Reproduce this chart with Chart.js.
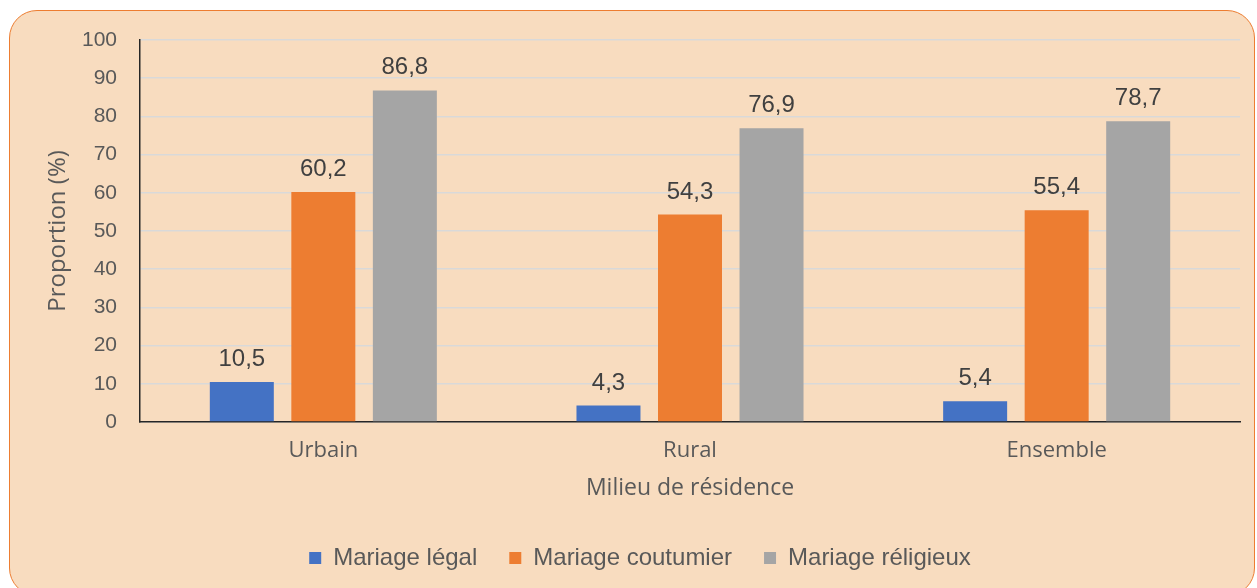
<!DOCTYPE html>
<html>
<head>
<meta charset="utf-8">
<script src="https://cdn.jsdelivr.net/npm/chart.js@4"></script>
<style>
  html, body { margin: 0; padding: 0; background: #ffffff; }
  #panel {
    position: absolute; left: 9px; top: 10px; width: 1246px; height: 586px;
    background: #F8DCBF; border: 1.5px solid #ED7D31; border-radius: 28px;
    box-sizing: border-box;
  }
  #wrap { position: absolute; left: 0; top: 0; width: 1257px; height: 588px; }
</style>
</head>
<body>
<div id="panel"></div>
<div id="wrap"><canvas id="marriageChart"></canvas></div>
<script>
const categories = ["Urbain", "Rural", "Ensemble"];
const seriesNames = ["Mariage légal", "Mariage coutumier", "Mariage réligieux"];
const legalValues = [10.5, 4.3, 5.4];
const customaryValues = [60.2, 54.3, 55.4];
const religiousValues = [86.8, 76.9, 78.7];
const seriesColors = ["#4472C4", "#ED7D31", "#A5A5A5"];

// étiquettes de valeur au-dessus des barres (format français)
const valueLabels = {
  id: "valueLabels",
  afterDatasetsDraw(chart) {
    const ctx = chart.ctx;
    ctx.save();
    ctx.font = "24px 'Liberation Sans', Arial, sans-serif";
    ctx.fillStyle = "#404040";
    ctx.textAlign = "center";
    ctx.textBaseline = "alphabetic";
    chart.data.datasets.forEach((ds, i) => {
      chart.getDatasetMeta(i).data.forEach((bar, j) => {
        ctx.fillText(ds.data[j].toFixed(1).replace(".", ","), bar.x, bar.y - 16);
      });
    });
    ctx.restore();
  }
};

const ctx = document.getElementById("marriageChart").getContext("2d");

new Chart(ctx, {
  type: "bar",
  data: {
    labels: categories,
    datasets: [legalValues, customaryValues, religiousValues].map((vals, i) => ({
      label: seriesNames[i],
      data: vals,
      backgroundColor: seriesColors[i],
      categoryPercentage: 0.667,
      barPercentage: 0.785,
    })),
  },
  options: {
    responsive: true,
    maintainAspectRatio: false,
    animation: false,
    layout: {
      padding: { top: 40, left: 40, right: 17, bottom: 8 },
    },
    plugins: {
      legend: {
        position: "bottom",
        labels: {
          boxWidth: 12,
          boxHeight: 12,
          padding: 32,
          color: "#595959",
          font: { family: "'Liberation Sans', Arial, sans-serif", size: 24 },
        },
      },
      tooltip: { enabled: false },
    },
    scales: {
      x: {
        grid: { display: false, drawTicks: false },
        border: { display: true, color: "#262626", width: 1.5 },
        ticks: {
          padding: 16,
          color: "#595959",
          font: { family: "'Open Sans', sans-serif", size: 22 },
        },
        title: {
          display: true,
          text: "Milieu de résidence",
          color: "#595959",
          padding: { top: 0, bottom: 12 },
          font: { family: "'Open Sans', sans-serif", size: 23 },
        },
        afterFit(scale) {
          scale.height = 92;
        },
      },
      y: {
        min: 0,
        max: 100,
        grid: { color: "#D9D9D9", lineWidth: 1.5, drawTicks: false },
        border: { display: true, color: "#262626", width: 1.5 },
        ticks: {
          stepSize: 10,
          padding: 23,
          color: "#595959",
          font: { family: "'Liberation Sans', Arial, sans-serif", size: 21 },
        },
        title: {
          display: true,
          text: "Proportion (%)",
          color: "#595959",
          padding: { top: 4, bottom: 0 },
          font: { family: "'Open Sans', sans-serif", size: 24 },
        },
        afterFit(scale) {
          scale.width = 100;
        },
      },
    },
  },
  plugins: [valueLabels],
});
</script>
</body>
</html>
